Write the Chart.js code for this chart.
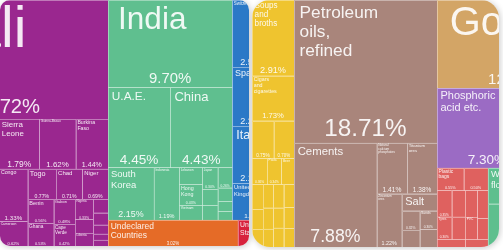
<!DOCTYPE html>
<html>
<head>
<meta charset="utf-8">
<script src="https://cdn.jsdelivr.net/npm/chart.js@4.4.1/dist/chart.umd.min.js"></script>
<style>
html, body { margin: 0; padding: 0; background: #ffffff; }
canvas { display: block; }
</style>
</head>
<body>
<canvas id="chart" width="503" height="250"></canvas>
<script>
// DESTINATIONS (left map)
const destNames = [
  "Mali", "Guinea", "Gambia", "Côte d'Ivoire",
  "Sierra Leone", "Guinea-Bissau", "Burkina Faso",
  "Congo", "Cameroon", "Togo", "Chad", "Niger", "Benin", "Ghana",
  "Gabon", "Cape Verde", "Nigeria", "Morocco", "Liberia",
  "Equatorial Guinea", "DR Congo", "Central African Rep.", "South Africa", "Tunisia",
  "India", "U.A.E.", "China", "South Korea", "Indonesia",
  "Lebanon", "Hong Kong", "Vietnam", "Japan", "Thailand", "Singapore",
  "Turkey", "Pakistan", "Saudi Arabia", "Bangladesh",
  "Switzerland", "Spain", "Italy", "United Kingdom",
  "Undeclared Countries", "United States"
];
const destShares = [
  21.72, 4.10, 3.40, 3.34,
  1.79, 1.62, 1.44,
  1.33, 0.62, 0.77, 0.71, 0.69, 0.56, 0.53,
  0.48, 0.42, 0.33, 0.22, 0.21,
  0.18, 0.16, 0.12, 0.08, 0.08,
  9.70, 4.45, 4.43, 2.15, 1.19,
  0.35, 0.43, 0.30, 0.30, 0.22, 0.20,
  0.26, 0.18, 0.13, 0.11,
  2.50, 2.20, 2.13, 1.37,
  3.02, 0.84
];
const destRegions = [
  "Africa", "Africa", "Africa", "Africa",
  "Africa", "Africa", "Africa",
  "Africa", "Africa", "Africa", "Africa", "Africa", "Africa", "Africa",
  "Africa", "Africa", "Africa", "Africa", "Africa",
  "Africa", "Africa", "Africa", "Africa", "Africa",
  "Asia", "Asia", "Asia", "Asia", "Asia",
  "Asia", "Asia", "Asia", "Asia", "Asia", "Asia",
  "Asia", "Asia", "Asia", "Asia",
  "Europe", "Europe", "Europe", "Europe",
  "Undeclared", "North America"
];

// PRODUCTS (right map)
const prodNames = [
  "Soups and broths", "Cigars and cigarettes", "Food preparations", "Prepared fish",
  "Sugar confectionery", "Pasta", "Beer",
  "Raw tobacco", "Mineral waters", "Sauces", "Coffee extracts", "Bread", "Ice cream",
  "Raw sugar", "Animal feed", "Vinegar", "Cocoa paste", "Fruit juice", "Yeasts",
  "Petroleum oils, refined", "Cements", "Natural calcium phosphates", "Titanium ores",
  "Zirconium ores", "Salt", "Limestone", "Gypsum", "Sands", "Petroleum coke",
  "Gold", "Phosphoric acid etc.",
  "Plastic bags", "Polyethylene", "Plastic pipes", "Tyres", "Polypropylene", "Plastic lids",
  "Rubber articles", "PVC", "Plastic sheets", "Plastic tubes", "Plastic films", "Foam rubber",
  "Wheat flours", "Groundnuts", "Cashew nuts", "Fresh vegetables",
  "Frozen fish"
];
const prodShares = [
  2.91, 1.73, 0.75, 0.70,
  0.36, 0.34, 0.30,
  0.25, 0.20, 0.18, 0.22, 0.20, 0.17,
  0.22, 0.19, 0.18, 0.22, 0.20, 0.18,
  18.71, 7.88, 1.41, 1.38,
  1.22, 0.55, 0.32, 0.28, 0.30, 0.28,
  12.34, 7.30,
  0.55, 0.50, 0.35, 0.30, 0.33, 0.28,
  0.30, 0.25, 0.27, 0.20, 0.20, 0.16,
  1.60, 0.80, 0.60, 0.54,
  7.73
];
const prodSections = [
  "Foodstuffs", "Foodstuffs", "Foodstuffs", "Foodstuffs",
  "Foodstuffs", "Foodstuffs", "Foodstuffs",
  "Foodstuffs", "Foodstuffs", "Foodstuffs", "Foodstuffs", "Foodstuffs", "Foodstuffs",
  "Foodstuffs", "Foodstuffs", "Foodstuffs", "Foodstuffs", "Foodstuffs", "Foodstuffs",
  "Mineral", "Mineral", "Mineral", "Mineral",
  "Mineral", "Mineral", "Mineral", "Mineral", "Mineral", "Mineral",
  "Metals", "Chemicals",
  "Plastics", "Plastics", "Plastics", "Plastics", "Plastics", "Plastics",
  "Plastics", "Plastics", "Plastics", "Plastics", "Plastics", "Plastics",
  "Vegetable", "Vegetable", "Vegetable", "Vegetable",
  "Animal"
];

// how the cells nest: 'h' = side by side, 'v' = stacked
const destPlan =
  ['h',
    ['v', 'Mali',
      ['h',
        ['h', 'Guinea', 'Gambia', "Côte d'Ivoire"],
        ['v',
          ['h', 'Sierra Leone', 'Guinea-Bissau', 'Burkina Faso'],
          ['h',
            ['v', 'Congo', 'Cameroon'],
            ['v',
              ['h', 'Togo', 'Chad', 'Niger'],
              ['h',
                ['v', 'Benin', 'Ghana'],
                ['h',
                  ['v', 'Gabon', 'Cape Verde'],
                  ['v', 'Nigeria', 'Morocco', 'Liberia'],
                  ['v', 'Equatorial Guinea', 'DR Congo', 'Central African Rep.', 'South Africa', 'Tunisia']]]]]]]],
    ['v',
      ['h',
        ['v', 'India',
          ['h', 'U.A.E.', 'China'],
          ['h', 'South Korea', 'Indonesia',
            ['h',
              ['v', 'Lebanon', 'Hong Kong', 'Vietnam'],
              ['v', 'Japan', 'Thailand', 'Singapore'],
              ['v', 'Turkey', 'Pakistan', 'Saudi Arabia', 'Bangladesh']]]],
        ['v', 'Switzerland', 'Spain', 'Italy', 'United Kingdom']],
      ['h', 'Undeclared Countries', 'United States']]];

const prodPlan =
  ['h',
    ['v', 'Soups and broths', 'Cigars and cigarettes',
      ['h', 'Food preparations', 'Prepared fish'],
      ['h', 'Sugar confectionery', 'Pasta', 'Beer'],
      ['h',
        ['v', 'Raw tobacco', 'Mineral waters', 'Sauces'],
        ['v', 'Coffee extracts', 'Bread', 'Ice cream'],
        ['v', 'Raw sugar', 'Animal feed', 'Vinegar'],
        ['v', 'Cocoa paste', 'Fruit juice', 'Yeasts']]],
    ['v', 'Petroleum oils, refined',
      ['h', 'Cements',
        ['v',
          ['h', 'Natural calcium phosphates', 'Titanium ores'],
          ['h', 'Zirconium ores',
            ['v', 'Salt',
              ['h', ['v', 'Limestone', 'Gypsum'], ['v', 'Sands', 'Petroleum coke']]]]]]],
    ['v', 'Gold',
      ['h',
        ['v', 'Phosphoric acid etc.',
          ['h',
            ['v',
              ['h', 'Plastic bags', 'Polyethylene'],
              ['h',
                ['v', 'Plastic pipes', 'Tyres'],
                ['v', 'Polypropylene', 'Plastic lids'],
                ['v', 'Rubber articles', 'PVC'],
                ['v', 'Plastic sheets', 'Plastic tubes']],
              ['h', 'Plastic films', 'Foam rubber']],
            ['v', 'Wheat flours', ['h', 'Groundnuts', ['v', 'Cashew nuts', 'Fresh vegetables']]]]],
        'Frozen fish']]];

const groupColors = {
  Africa: '#9a278f', Asia: '#5fbf8f', Europe: '#2b79c7',
  Undeclared: '#e56b27', 'North America': '#d8223c',
  Foodstuffs: '#efc42f', Mineral: '#a9857b', Metals: '#d3a566',
  Chemicals: '#9b6bc4', Plastics: '#df615f', Vegetable: '#5ebf8e', Animal: '#3f8fc9'
};

const FONT = '"Liberation Sans", Arial, sans-serif';

function sumOf(node, shareOf) {
  if (typeof node === 'string') return shareOf[node];
  return node.slice(1).reduce((a, k) => a + sumOf(k, shareOf), 0);
}

function layoutNode(node, x0, y0, x1, y1, shareOf, out) {
  if (typeof node === 'string') {
    out.push({ name: node, x0, y0, x1, y1 });
    return;
  }
  const dir = node[0];
  const kids = node.slice(1);
  const sums = kids.map(k => sumOf(k, shareOf));
  const total = sums.reduce((a, b) => a + b, 0);
  let pos = dir === 'h' ? x0 : y0;
  const span = dir === 'h' ? x1 - x0 : y1 - y0;
  kids.forEach((k, i) => {
    const len = span * sums[i] / total;
    if (dir === 'h') layoutNode(k, pos, y0, pos + len, y1, shareOf, out);
    else layoutNode(k, x0, pos, x1, pos + len, shareOf, out);
    pos += len;
  });
}

function wrap(ctx, words, maxW) {
  const lines = [];
  let cur = '';
  words.forEach(w => {
    const test = cur ? cur + ' ' + w : w;
    if (cur && ctx.measureText(test).width > maxW) {
      lines.push(cur);
      cur = w;
    } else {
      cur = test;
    }
  });
  if (cur) lines.push(cur);
  return lines;
}

function fitLabel(ctx, text, w, h) {
  const words = text.split(' ');
  ctx.font = '100px ' + FONT;
  const widest = Math.max(...words.map(t => ctx.measureText(t).width)) / 100;
  const maxW = 0.55 * w;
  let f = Math.min(maxW / widest, 57);
  let lines = [];
  while (f >= 3) {
    ctx.font = f + 'px ' + FONT;
    lines = wrap(ctx, words, maxW);
    if (lines.length * f * 1.1 <= 0.72 * h) break;
    f -= 0.25;
  }
  return f >= 3 ? { f, lines } : null;
}

const treemapPlugin = {
  id: 'treemapCards',
  afterDatasetsDraw(chart) {
    const ctx = chart.ctx;
    const sx = chart.scales.x, sy = chart.scales.y;
    chart.data.datasets.forEach(ds => {
      const shareOf = {}, groupOf = {};
      ds.names.forEach((n, i) => { shareOf[n] = ds.shares[i]; groupOf[n] = ds.groups[i]; });
      const leaves = [];
      const fr = ds.frame;
      layoutNode(ds.plan, fr[0], fr[1], fr[2], fr[3], shareOf, leaves);

      const c = ds.card;
      const cx0 = sx.getPixelForValue(c[0]), cy0 = sy.getPixelForValue(c[1]);
      const cx1 = sx.getPixelForValue(c[2]), cy1 = sy.getPixelForValue(c[3]);

      // card shadow
      ctx.save();
      ctx.shadowColor = 'rgba(0,0,0,0.22)';
      ctx.shadowBlur = 6;
      ctx.shadowOffsetX = 1;
      ctx.shadowOffsetY = 1;
      ctx.beginPath();
      ctx.roundRect(cx0, cy0, cx1 - cx0, cy1 - cy0, c[4]);
      ctx.fillStyle = '#ffffff';
      ctx.fill();
      ctx.restore();

      ctx.save();
      ctx.beginPath();
      ctx.roundRect(cx0, cy0, cx1 - cx0, cy1 - cy0, c[4]);
      ctx.clip();

      const px = leaves.map(l => ({
        name: l.name,
        x0: sx.getPixelForValue(l.x0), x1: sx.getPixelForValue(l.x1),
        y0: sy.getPixelForValue(l.y0), y1: sy.getPixelForValue(l.y1)
      }));

      px.forEach(r => {
        ctx.fillStyle = groupColors[groupOf[r.name]];
        ctx.fillRect(r.x0, r.y0, r.x1 - r.x0, r.y1 - r.y0);
      });

      // thin light borders
      ctx.strokeStyle = 'rgba(255,255,255,0.38)';
      ctx.lineWidth = 1;
      px.forEach(r => {
        const x = Math.round(r.x0) + 0.5, y = Math.round(r.y0) + 0.5;
        ctx.beginPath();
        ctx.moveTo(x, r.y1); ctx.lineTo(x, y); ctx.lineTo(r.x1, y);
        ctx.stroke();
      });

      // labels and shares
      ctx.fillStyle = 'rgba(255,255,255,0.9)';
      ctx.textBaseline = 'alphabetic';
      px.forEach(r => {
        const w = r.x1 - r.x0, h = r.y1 - r.y0;
        const lab = fitLabel(ctx, r.name, w, h);
        if (lab) {
          ctx.font = lab.f + 'px ' + FONT;
          ctx.textAlign = 'left';
          const padX = Math.max(1.5, 0.32 * lab.f);
          const padY = Math.min(6, 0.3 * lab.f);
          lab.lines.forEach((ln, i) => {
            ctx.fillText(ln, r.x0 + padX, r.y0 + padY + 0.72 * lab.f + i * 1.1 * lab.f);
          });
        }
        const txt = shareOf[r.name].toFixed(2) + '%';
        ctx.font = '100px ' + FONT;
        const em = ctx.measureText(txt).width / 100;
        const fs = Math.min(0.17 * h, 0.62 * w / em);
        if (fs >= 3) {
          ctx.font = fs + 'px ' + FONT;
          ctx.textAlign = 'center';
          ctx.fillText(txt, (r.x0 + r.x1) / 2, r.y1 - 0.28 * fs);
        }
      });
      ctx.restore();
    });
  }
};

new Chart(document.getElementById('chart'), {
  type: 'scatter',
  data: {
    datasets: [
      { label: 'Destinations', data: [], names: destNames, shares: destShares, groups: destRegions,
        plan: destPlan, frame: [-96.4, 0, 274, 246], card: [0, 0, 249, 246, 10] },
      { label: 'Products', data: [], names: prodNames, shares: prodShares, groups: prodSections,
        plan: prodPlan, frame: [252, 0, 590, 247], card: [252, 0, 499, 247, 18] }
    ]
  },
  options: {
    responsive: false,
    animation: false,
    devicePixelRatio: 1,
    layout: { padding: 0 },
    plugins: { legend: { display: false }, tooltip: { enabled: false } },
    scales: {
      x: { type: 'linear', min: 0, max: 503, display: false },
      y: { type: 'linear', min: 0, max: 250, reverse: true, display: false }
    }
  },
  plugins: [treemapPlugin]
});
</script>
</body>
</html>
